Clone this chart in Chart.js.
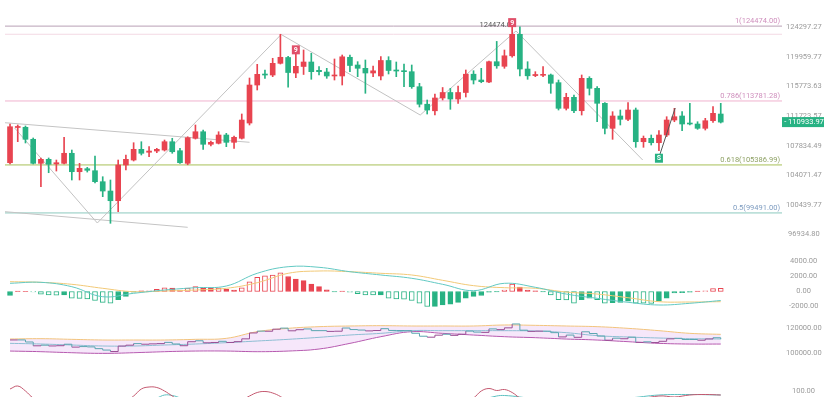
<!DOCTYPE html>
<html>
<head>
<meta charset="utf-8">
<script src="https://cdn.jsdelivr.net/npm/chart.js@4.4.0/dist/chart.umd.min.js"></script>
<style>
  html, body { margin: 0; padding: 0; background: #fff; overflow: hidden; width: 824px; height: 397px; }
  canvas { position: absolute; left: 0; display: block; }
</style>
</head>
<body>
<canvas id="priceChart" width="824" height="250" style="top:0"></canvas>
<canvas id="macdChart" width="824" height="65" style="top:250px"></canvas>
<canvas id="bollChart" width="824" height="50" style="top:315px"></canvas>
<canvas id="kdjChart" width="824" height="25" style="top:372px"></canvas>
<script>
// daily candles
const candleOpen = [105660,110220,110245,108670,105580,106090,105500,105580,106860,104525,
  104900,104650,103280,102130,100950,105370,106000,107370,106990,107150,
  107280,108355,107190,105580,108800,109660,108020,108150,109230,108275,
  108800,110810,115980,117520,117380,119040,119875,117665,118590,119230,
  118045,117805,117245,117245,119905,118800,118330,117665,117245,119445,
  118090,117975,117850,115745,113340,112450,114190,114945,114050,114945,
  117495,116680,116400,119270,118615,120120,123255,118230,117300,117340,
  117385,116310,112785,114280,112460,116915,115525,113465,110110,111750,
  111305,112555,108355,108800,108225,109230,111215,111750,110775,110680,
  110110,111120,112015];
const candleHigh = [110680,110550,110420,108840,106260,106260,106000,108930,107280,105580,
  105070,106510,103900,103490,106000,106640,108225,108355,107710,107500,
  108575,108800,107500,109000,110550,109890,108445,109660,109450,109100,
  112020,116960,118900,118090,119760,123260,120050,120475,120960,120490,
  118565,118330,119660,120235,120235,119275,119515,118655,119990,119990,
  119230,118915,118800,116215,113915,114740,115635,115520,115845,118090,
  117990,118330,119370,122210,120955,124474,124385,119270,117850,118565,
  117520,116680,114835,114600,117385,117145,115750,113550,112330,112555,
  113550,112825,109100,109230,109800,111655,112785,112330,113465,110985,
  111440,113005,113465];
const candleLow = [105495,108360,108190,105500,102660,104400,104610,105500,103490,103490,
  104480,103120,101440,98250,99630,104740,105875,106640,106420,106935,
  107150,106860,105580,105400,108700,107370,107800,108060,107710,107500,
  108700,110550,115290,116915,117145,118940,115690,117005,117455,116780,
  117385,116915,116680,115985,117850,117145,114835,117145,116680,117525,
  117145,115750,115520,112960,112015,111880,113915,112650,113460,114325,
  116125,116300,116300,118330,118330,119905,117245,116780,117145,117145,
  114835,112555,112555,112195,111880,114600,110985,109360,108665,110550,
  111120,107630,107630,107925,107190,109010,110985,109800,110550,109975,
  109885,110900,110815];
const candleClose = [110320,110350,108670,105580,106090,105460,105660,106860,104525,104950,
  104700,103280,102130,100950,105370,106090,107370,106860,107150,107370,
  108355,107060,105660,108880,109660,108020,108275,109230,108275,108930,
  111210,115980,117480,117380,119040,119905,117735,118615,119230,117850,
  117850,117245,117385,119975,118730,118330,117665,117975,119445,118020,
  117945,117850,115745,113340,112555,114190,114945,114050,114945,117495,
  116680,116445,119270,118685,120120,123255,118230,117270,117455,117455,
  116220,112785,114280,112460,116915,115525,113465,110110,111750,111305,
  112555,108355,108800,108225,109230,111215,111655,110680,110680,110110,
  111120,112110,110933.97];

const priceTicks = [124297.27, 119959.77, 115773.63, 111723.57, 107834.49, 104071.47, 100439.77, 96934.80];
const fibRatios = ['1', '0.786', '0.618', '0.5'];
const fibLevels = [124474.00, 113781.28, 105386.99, 99491.00];
const prevHighLevel = 123260;

// drawn trend lines (candle index, price)
const channelTopIdx = [-0.65, 31];
const channelTopVal = [110850, 108280];
const channelLowIdx = [-0.65, 23];
const channelLowVal = [99630, 97780];
const zigIdx = [0.6, 11.3, 35.1, 53.1, 65.5, 81.9];
const zigVal = [110150, 98285, 123230, 111880, 123750, 106000];
const signalIdx = [84.1, 86.1];
const signalVal = [106640, 112825];

const markerIdx = [37, 65, 84];
const markerText = ['9', '9', 'S'];
const peakIdx = 65;

// MACD
const macdHist = [-530,50,30,-50,-350,-450,-480,-450,-900,-920,
  -1000,-1200,-1450,-1550,-1100,-650,-80,80,100,300,
  500,450,200,450,650,450,420,450,300,200,
  500,1300,1900,2100,2200,2500,2000,1650,1450,1000,
  650,220,-60,60,-100,-300,-450,-470,-440,-900,
  -1000,-1020,-1200,-1550,-2000,-1980,-1800,-1700,-1450,-900,
  -650,-530,-100,-50,200,1000,580,200,80,-50,
  -450,-1100,-1120,-1550,-1100,-900,-1100,-1550,-1500,-1450,
  -1300,-1550,-1570,-1590,-1300,-900,-200,-150,-100,50,
  80,400,420];
const macdTicks = [4000, 2000, 0, -2000];
const lineIdx = [0,4,8,12,16,20,24,28,32,36,40,44,48,52,56,60,64,68,72,76,80,84,88,92];
const difVals = [1093,1222,640,-693,-240,200,507,733,2426,3306,3226,2640,2200,1760,960,110,1093,560,-340,-910,-1440,-1800,-1573,-1200];
const deaVals = [1307,1222,960,427,-27,67,200,427,1173,2426,2733,2640,2426,2200,1493,780,507,427,-70,-340,-830,-1360,-1400,-1360];

// BOLL
const bollTicks = [120000, 100000];
const bollUpper = [111090,111360,110820,110280,110280,110280,110820,111630,117030,119730,121080,121620,121890,121620,121620,121620,122430,122160,121620,121080,119730,117840,115680,114870];
const bollMid = [107580,107040,106230,105420,105420,106230,107040,108120,109470,110820,112440,114330,115680,117840,117840,117840,117840,117570,116220,113800,112700,111900,111360,111090];
const bollLower = [101370,100830,100000,99480,100000,100830,101370,101370,100830,101370,103000,107580,112980,117030,115680,114330,112980,112170,111090,110280,108930,107580,107040,107040];

// lower oscillator (only its top is visible)
const oscTicks = [100];
const jIdx = [0,1,2,3,5,14,16,17,18,19,20,21,23,29,31,32,33,34,35,37,58,60,61,62,63,64,65,66,68,80,84,86,88,90,92];
const jVals = [104,110,100,86,70,70,90,104,108,107,100,90,70,75,90,97,99,96,89,70,70,86,100,105,101,103,97,86,70,80,90,88,92,93,92];
const kIdx = [15,19,20,21,22,24,60,63,64,66,70,80,84,88,92];
const kVals = [70,86,92,91,86,70,80,90,91,88,80,86,92,93,92];

const RED = '#e84450';
const GREEN = '#27b283';
const X_MIN = -0.65, X_MAX = 99.93;

const idx = candleOpen.map((_, i) => i);
const candleColors = idx.map(i => candleClose[i] >= candleOpen[i] ? RED : GREEN);
const pts = (xs, ys) => xs.map((x, k) => ({ x: x, y: ys[k] }));

function xAxis() {
  return { type: 'linear', display: false, min: X_MIN, max: X_MAX, offset: false };
}

function yAxis(type, min, max, tickVals, pad) {
  return {
    type: type, min: min, max: max, position: 'right', bounds: 'data', beginAtZero: false,
    grid: { display: false, drawTicks: false },
    border: { display: false },
    ticks: {
      color: '#9b9b9b', font: { family: 'Roboto', size: 7.5 }, padding: pad,
      crossAlign: 'center', autoSkip: false, maxRotation: 0,
      callback: v => Number(v).toFixed(2)
    },
    afterBuildTicks: s => { s.ticks = tickVals.map(v => ({ value: v })); },
    afterFit: s => { s.width = 42; s.paddingTop = 0; s.paddingBottom = 0; }
  };
}

function baseOptions(yScale) {
  return {
    responsive: false, animation: false, events: [],
    layout: { padding: { left: 5, right: 0, top: 0, bottom: 0 } },
    plugins: { legend: { display: false }, tooltip: { enabled: false } },
    datasets: { bar: { grouped: false } },
    scales: { x: xAxis(), y: yScale }
  };
}

function flatLine(level, color, width) {
  return { type: 'line', data: [{ x: X_MIN, y: level }, { x: X_MAX, y: level }],
    borderColor: color, borderWidth: width, pointRadius: 0, order: 6 };
}
function pathLine(data, color, width, order) {
  return { type: 'line', data: data, borderColor: color, borderWidth: width, pointRadius: 0, order: order };
}

const fibLineColors = ['#b9a0b5', '#f0b2cf', '#cddb9f', '#bde0da'];
const fibTextColors = ['#cf8fbd', '#cf8fbd', '#8fa266', '#7e9cc0'];

const priceOverlay = {
  id: 'priceOverlay',
  afterDraw(chart) {
    const { ctx, chartArea, scales: { x, y } } = chart;
    ctx.save();
    ctx.textBaseline = 'middle';
    ctx.font = '7.5px Roboto';
    ctx.textAlign = 'right';
    fibLevels.forEach((lvl, k) => {
      ctx.fillStyle = fibTextColors[k];
      ctx.fillText(fibRatios[k] + '(' + lvl.toFixed(2) + ')', chartArea.right - 2, y.getPixelForValue(lvl) - 5);
    });
    // peak price text
    ctx.fillStyle = '#555';
    ctx.fillText(candleHigh[peakIdx].toFixed(2), x.getPixelForValue(peakIdx) + 3, y.getPixelForValue(candleHigh[peakIdx]) - 1);
    // sequence markers
    ctx.textAlign = 'center';
    ctx.font = 'bold 7px Roboto';
    markerIdx.forEach((i, k) => {
      const px = x.getPixelForValue(i);
      const buy = markerText[k] === 'S';
      const top = buy ? y.getPixelForValue(candleLow[i]) + 3 : y.getPixelForValue(candleHigh[i]) - 8;
      ctx.fillStyle = buy ? GREEN : '#e0506a';
      ctx.fillRect(px - 4, top, 8, 9);
      ctx.fillStyle = '#fff';
      ctx.fillText(markerText[k], px, top + 4.7);
    });
    // last price tag
    const last = candleClose[candleClose.length - 1];
    const ty = y.getPixelForValue(last);
    ctx.fillStyle = GREEN;
    ctx.fillRect(chartArea.right, ty - 5, chart.width - chartArea.right, 10);
    ctx.fillStyle = '#fff';
    ctx.font = '7.5px Roboto';
    ctx.fillText('- ' + last.toFixed(2), (chartArea.right + chart.width) / 2 + 1, ty + 0.5);
    ctx.restore();
  }
};

new Chart('priceChart', {
  type: 'bar',
  data: {
    datasets: [
      { type: 'bar', data: idx.map(i => ({ x: i, y: [candleLow[i], candleHigh[i]] })),
        backgroundColor: candleColors, barThickness: 1, order: 2 },
      { type: 'bar', data: idx.map(i => ({ x: i, y: [candleOpen[i], candleClose[i]] })),
        backgroundColor: candleColors, barThickness: 5, minBarLength: 1, order: 1 },
      ...fibLevels.map((lvl, k) => flatLine(lvl, fibLineColors[k], k >= 2 ? 1.6 : 1)),
      flatLine(prevHighLevel, '#f3d9e4', 1),
      pathLine(pts(channelTopIdx, channelTopVal), '#c4c4c4', 1, 5),
      pathLine(pts(channelLowIdx, channelLowVal), '#c4c4c4', 1, 5),
      pathLine(pts(zigIdx, zigVal), '#c2c2c2', 1, 5),
      pathLine(pts(signalIdx, signalVal), '#555555', 1, 0)
    ]
  },
  options: baseOptions(yAxis('logarithmic', 95154, 128435, priceTicks, 4)),
  plugins: [priceOverlay]
});

// MACD pane
const histColor = macdHist.map(h => h >= 0 ? RED : GREEN);
const histHollow = macdHist.map((h, i) => i > 0 && Math.abs(h) > Math.abs(macdHist[i - 1]));
new Chart('macdChart', {
  type: 'bar',
  data: {
    datasets: [
      { type: 'bar', data: idx.map(i => ({ x: i, y: macdHist[i] })),
        backgroundColor: idx.map(i => histHollow[i] ? '#ffffff' : histColor[i]),
        borderColor: histColor, borderWidth: 1, borderSkipped: false, barThickness: 5, order: 3 },
      { type: 'line', data: pts(lineIdx, difVals), borderColor: '#62c9c3', borderWidth: 1, pointRadius: 0, tension: 0.4, order: 1 },
      { type: 'line', data: pts(lineIdx, deaVals), borderColor: '#f2c977', borderWidth: 1, pointRadius: 0, tension: 0.4, order: 2 }
    ]
  },
  options: baseOptions(yAxis('linear', -3133, 5533, macdTicks, 7))
});

// BOLL pane
new Chart('bollChart', {
  type: 'line',
  data: {
    datasets: [
      { data: pts(lineIdx, bollUpper), borderColor: '#f2c47c', backgroundColor: 'rgba(224,168,236,0.28)', fill: '+2', borderWidth: 1, pointRadius: 0, tension: 0.4, order: 2 },
      { data: pts(lineIdx, bollMid), borderColor: '#6fc6c9', borderWidth: 1, pointRadius: 0, tension: 0.4, fill: false, order: 2 },
      { data: pts(lineIdx, bollLower), borderColor: '#b04ea6', borderWidth: 1, pointRadius: 0, tension: 0.4, fill: false, order: 2 },
      { data: idx.map(i => ({ x: i, y: candleClose[i] })), stepped: true, borderWidth: 1, pointRadius: 0, fill: false, order: 1,
        borderColor: '#9a4f95',
        segment: { borderColor: c => candleClose[c.p1DataIndex] >= candleOpen[c.p1DataIndex] ? '#9a4f95' : '#5aa6b0' } }
    ]
  },
  options: baseOptions(yAxis('linear', 90041, 130526, bollTicks, 4))
});

// oscillator pane
new Chart('kdjChart', {
  type: 'line',
  data: {
    datasets: [
      { data: pts(jIdx, jVals), borderColor: '#c4586f', borderWidth: 1, pointRadius: 0, tension: 0.4 },
      { data: pts(kIdx, kVals), borderColor: '#5cc0c0', borderWidth: 1, pointRadius: 0, tension: 0.4 }
    ]
  },
  options: baseOptions(yAxis('linear', 88, 138, oscTicks, 10))
});
</script>
</body>
</html>
